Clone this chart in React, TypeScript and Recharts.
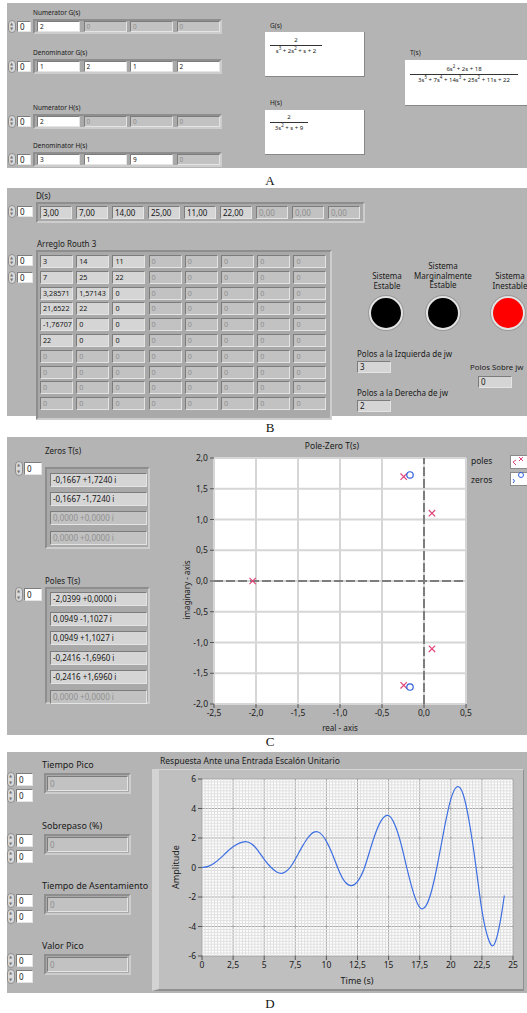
import React from "react";
import {
  CartesianGrid,
  Line,
  LineChart,
  ReferenceLine,
  Scatter,
  ScatterChart,
  XAxis,
  YAxis,
} from "recharts";

const PANEL = "#b4b4b4";
const FONT = "'Noto Sans', 'DejaVu Sans', sans-serif";
const POLE = "#e0457b";
const ZERO = "#2f5fdc";

// A: transfer function inputs
const numeratorG = ["2", "0", "0", "0"];
const denominatorG = ["1", "2", "1", "2"];
const numeratorH = ["2", "0", "0", "0"];
const denominatorH = ["3", "1", "9", "0"];
const activeCounts = [1, 4, 1, 3];

// B: characteristic polynomial + Routh array
const dCoefficients = ["3,00", "7,00", "14,00", "25,00", "11,00", "22,00", "0,00", "0,00", "0,00"];
const routhRows = [
  ["3", "14", "11"],
  ["7", "25", "22"],
  ["3,28571", "1,57143", "0"],
  ["21,6522", "22", "0"],
  ["-1,76707", "0", "0"],
  ["22", "0", "0"],
];
const polesLeft = "3";
const polesOn = "0";
const polesRight = "2";

// C: poles and zeros of T(s)
const zeroLabels = ["-0,1667 +1,7240 i", "-0,1667 -1,7240 i", "0,0000 +0,0000 i", "0,0000 +0,0000 i"];
const poleLabels = [
  "-2,0399 +0,0000 i",
  "0,0949 -1,1027 i",
  "0,0949 +1,1027 i",
  "-0,2416 -1,6960 i",
  "-0,2416 +1,6960 i",
  "0,0000 +0,0000 i",
];
const poleRe = [-2.0399, 0.0949, 0.0949, -0.2416, -0.2416];
const poleIm = [0, -1.1027, 1.1027, -1.696, 1.696];
const zeroRe = [-0.1667, -0.1667];
const zeroIm = [1.724, -1.724];
const reTicks = [-2.5, -2, -1.5, -1, -0.5, 0, 0.5];
const imTicks = [-2, -1.5, -1, -0.5, 0, 0.5, 1, 1.5, 2];

// D: step response
const stepTime = [
  0, 0.5, 1, 1.5, 2, 2.5, 3, 3.5, 4, 4.5, 5, 5.5, 6, 6.5, 7, 7.5, 8, 8.5, 9, 9.5, 10, 10.5, 11, 11.5,
  12, 12.5, 13, 13.5, 14, 14.5, 15, 15.5, 16, 16.5, 17, 17.5, 18, 18.5, 19, 19.5, 20, 20.5, 21, 21.5,
  22, 22.5, 23, 23.5, 24, 24.3,
];
const stepAmp = [
  0, 0.08, 0.3, 0.65, 1.05, 1.4, 1.65, 1.76, 1.6, 1.15, 0.55, 0.05, -0.3, -0.38, -0.08, 0.56, 1.33, 2.0,
  2.4, 2.33, 1.77, 0.87, -0.2, -0.98, -1.23, -0.95, -0.15, 1.16, 2.44, 3.3, 3.52, 2.9, 1.6, -0.15, -1.72,
  -2.7, -2.6, -1.44, 0.51, 2.75, 4.62, 5.47, 4.95, 3.0, 0.2, -2.9, -4.8, -5.2, -3.55, -1.9,
];
const timeTicks = [0, 2.5, 5, 7.5, 10, 12.5, 15, 17.5, 20, 22.5, 25];
const ampTicks = [-6, -4, -2, 0, 2, 4, 6];
// minor grid positions (every 0.25 s / 0.2 amplitude), majors left to the grid
const minorTime = Array.from({ length: 101 }, (_, i) => i * 0.25).filter((_, i) => i % 10 !== 0);
const minorAmp = Array.from({ length: 61 }, (_, i) => -6 + i * 0.2).filter((_, i) => i % 10 !== 0);

const comma = (v: number, digits?: number) =>
  (digits === undefined ? String(v) : v.toFixed(digits)).replace(".", ",");

type Kind = "control" | "indicator" | "disabled";

function Cell({ x, y, w, h, text, kind, size = 8 }: { x: number; y: number; w: number; h: number; text: string; kind: Kind; size?: number }) {
  const bg = kind === "control" ? "#ffffff" : kind === "indicator" ? "#d5d5d5" : "#c2c2c2";
  return (
    <div
      style={{
        position: "absolute", left: x, top: y, width: w, height: h, boxSizing: "border-box",
        background: bg, color: kind === "disabled" ? "#8e8e8e" : "#151515", fontSize: size,
        lineHeight: `${h - 2}px`, paddingLeft: 2, whiteSpace: "nowrap", overflow: "hidden",
        borderTop: "1px solid #7c7c7c", borderLeft: "1px solid #7c7c7c",
        borderBottom: "1px solid #e4e4e4", borderRight: "1px solid #e4e4e4",
      }}
    >
      {text}
    </div>
  );
}

function Frame({ x, y, w, h }: { x: number; y: number; w: number; h: number }) {
  return (
    <div
      style={{
        position: "absolute", left: x, top: y, width: w, height: h, boxSizing: "border-box",
        background: "#a9a9a9", borderTop: "2px solid #8e8e8e", borderLeft: "2px solid #8e8e8e",
        borderBottom: "2px solid #cdcdcd", borderRight: "2px solid #cdcdcd",
      }}
    />
  );
}

function Text({ x, y, text, size = 8, w, center }: { x: number; y: number; text: React.ReactNode; size?: number; w?: number; center?: boolean }) {
  return (
    <div
      style={{
        position: "absolute", left: x, top: y, width: w, fontSize: size, lineHeight: 1.2,
        color: "#1a1a1a", whiteSpace: "nowrap", textAlign: center ? "center" : "left",
      }}
    >
      {text}
    </div>
  );
}

function Spinner({ x, y, box = 15, h = 11 }: { x: number; y: number; box?: number; h?: number }) {
  return (
    <>
      <div
        style={{
          position: "absolute", left: x, top: y - 1, width: 8, height: h + 2, boxSizing: "border-box",
          borderRadius: 4, background: "#d9d9d9", border: "1px solid #8d8d8d",
        }}
      >
        <div style={{ position: "absolute", left: 1, top: 1, fontSize: 4, lineHeight: "4px", color: "#777" }}>▲</div>
        <div style={{ position: "absolute", left: 1, bottom: 1, fontSize: 4, lineHeight: "4px", color: "#777" }}>▼</div>
      </div>
      <Cell x={x + 9} y={y} w={box} h={h} text="0" kind="control" />
    </>
  );
}

function Fraction({ x, y, w, num, den }: { x: number; y: number; w: number; num: React.ReactNode; den: React.ReactNode }) {
  return (
    <div style={{ position: "absolute", left: x, top: y, width: w, fontSize: 6, lineHeight: "7px", textAlign: "center", color: "#222" }}>
      <div style={{ borderBottom: "1.5px solid #333", paddingBottom: 1 }}>{num}</div>
      <div style={{ paddingTop: 2 }}>{den}</div>
    </div>
  );
}

const sup = (n: string) => <sup style={{ fontSize: 4.5, lineHeight: 0 }}>{n}</sup>;

function ArrayRow({ label, values, active, top }: { label: string; values: string[]; active: number; top: number }) {
  return (
    <>
      <Text x={33} y={top} text={label} size={6.5} />
      <Spinner x={8} y={top + 12} box={14} />
      <Frame x={33} y={top + 10} w={189} h={15} />
      {values.map((v, i) => (
        <Cell key={i} x={37 + i * 46.5} y={top + 12} w={43} h={11} text={v} kind={i < active ? "control" : "disabled"} size={6.5} />
      ))}
    </>
  );
}

const PoleMark = (props: any) => {
  const { cx, cy } = props;
  const s = 3.2;
  return (
    <g>
      <line x1={cx - s} y1={cy - s} x2={cx + s} y2={cy + s} stroke={POLE} strokeWidth={1.2} />
      <line x1={cx - s} y1={cy + s} x2={cx + s} y2={cy - s} stroke={POLE} strokeWidth={1.2} />
    </g>
  );
};

const ZeroMark = (props: any) => {
  const { cx, cy } = props;
  return <circle cx={cx} cy={cy} r={3.2} fill="none" stroke={ZERO} strokeWidth={1.2} />;
};

function PoleZeroChart() {
  const poles = poleRe.map((re, i) => ({ re, im: poleIm[i] }));
  const zeros = zeroRe.map((re, i) => ({ re, im: zeroIm[i] }));
  const tick = { fontSize: 8.5, fill: "#1a1a1a", fontFamily: FONT };
  return (
    <ScatterChart width={342} height={298} margin={{ top: 21, right: 61, bottom: 13, left: 0 }}>
      <CartesianGrid stroke="#d6d6d6" strokeWidth={2} fill="#ffffff" />
      <XAxis
        type="number" dataKey="re" domain={[-2.5, 0.5]} ticks={reTicks} height={18}
        tickFormatter={(v) => comma(Number(v), 1)} tick={tick} axisLine={false}
        tickLine={{ stroke: "#555" }} tickSize={4} allowDataOverflow
      />
      <YAxis
        type="number" dataKey="im" domain={[-2, 2]} ticks={imTicks} width={29}
        tickFormatter={(v) => comma(Number(v), 1)} tick={tick} axisLine={false}
        tickLine={{ stroke: "#555" }} tickSize={4} allowDataOverflow
      />
      <ReferenceLine x={0} stroke="#7d7d7d" strokeWidth={2} strokeDasharray="9 3" />
      <ReferenceLine y={0} stroke="#7d7d7d" strokeWidth={2} strokeDasharray="9 3" />
      <Scatter name="poles" data={poles} shape={PoleMark} isAnimationActive={false} />
      <Scatter name="zeros" data={zeros} shape={ZeroMark} isAnimationActive={false} />
    </ScatterChart>
  );
}

function StepChart() {
  const data = stepTime.map((t, i) => ({ t, y: stepAmp[i] }));
  const tick = { fontSize: 8.5, fill: "#1a1a1a", fontFamily: FONT };
  return (
    <LineChart width={368} height={220} data={data} margin={{ top: 9, right: 10, bottom: 16, left: 22 }}>
      <CartesianGrid stroke="#a4a4a4" fill="#fdfdfd" />
      <XAxis
        type="number" dataKey="t" domain={[0, 25]} ticks={timeTicks} height={18}
        tickFormatter={(v) => comma(Number(v))} tick={tick} axisLine={false}
        tickLine={{ stroke: "#555" }} tickSize={4}
      />
      <YAxis
        type="number" domain={[-6, 6]} ticks={ampTicks} width={25}
        tick={tick} axisLine={false} tickLine={{ stroke: "#555" }} tickSize={4}
      />
      {minorTime.map((t) => (
        <ReferenceLine key={`t${t}`} x={t} stroke="#e0e0e0" strokeWidth={1} />
      ))}
      {minorAmp.map((a) => (
        <ReferenceLine key={`a${a}`} y={a} stroke="#e0e0e0" strokeWidth={1} />
      ))}
      <Line type="natural" dataKey="y" stroke="#3d6fe2" strokeWidth={1.2} dot={false} isAnimationActive={false} />
    </LineChart>
  );
}

function Led({ cx, cy, color }: { cx: number; cy: number; color: string }) {
  return (
    <div
      style={{
        position: "absolute", left: cx - 17, top: cy - 17, width: 34, height: 34, boxSizing: "border-box",
        borderRadius: "50%", background: color, border: "2px solid #e2e2e2", boxShadow: "0 0 0 1px #9a9a9a",
      }}
    />
  );
}

export default function App() {
  const panel = (top: number, h: number) => (
    <div style={{ position: "absolute", left: 7, top, width: 520, height: h, background: PANEL }} />
  );
  const letter = (y: number, l: string) => (
    <div style={{ position: "absolute", left: 0, width: 540, top: y, textAlign: "center", fontFamily: "'Liberation Serif', serif", fontSize: 13, lineHeight: "14px", color: "#111" }}>
      {l}
    </div>
  );

  return (
    <div style={{ position: "relative", width: 527, height: 1013, overflow: "hidden", background: "#fff", fontFamily: FONT }}>
      <style>{"body{margin:0}"}</style>

      {/* A */}
      {panel(3, 165)}
      <ArrayRow label="Numerator G(s)" values={numeratorG} active={activeCounts[0]} top={9} />
      <ArrayRow label="Denominator G(s)" values={denominatorG} active={activeCounts[1]} top={49} />
      <ArrayRow label="Numerator H(s)" values={numeratorH} active={activeCounts[2]} top={104} />
      <ArrayRow label="Denominator H(s)" values={denominatorH} active={activeCounts[3]} top={142} />
      <Text x={270} y={22} text="G(s)" size={6.5} />
      <div style={{ position: "absolute", left: 265, top: 32, width: 99, height: 44, background: "#fff", borderBottom: "1px solid #888", borderRight: "1px solid #888" }} />
      <Fraction x={270} y={37} w={52} num="2" den={<>s{sup("3")} + 2s{sup("2")} + s + 2</>} />
      <Text x={270} y={99} text="H(s)" size={6.5} />
      <div style={{ position: "absolute", left: 265, top: 110, width: 99, height: 44, background: "#fff", borderBottom: "1px solid #888", borderRight: "1px solid #888" }} />
      <Fraction x={270} y={114} w={38} num="2" den={<>3s{sup("2")} + s + 9</>} />
      <Text x={410} y={49} text="T(s)" size={6.5} />
      <div style={{ position: "absolute", left: 405, top: 60, width: 122, height: 45, background: "#fff", borderBottom: "1px solid #888" }} />
      <Fraction
        x={410} y={66} w={108}
        num={<>6s{sup("2")} + 2s + 18</>}
        den={<>3s{sup("5")} + 7s{sup("4")} + 14s{sup("3")} + 25s{sup("2")} + 11s + 22</>}
      />
      {letter(174, "A")}

      {/* B */}
      {panel(188, 228)}
      <Text x={36} y={191} text="D(s)" />
      <Spinner x={8} y={206} box={16} />
      <Frame x={36} y={202} w={329} h={21} />
      {dCoefficients.map((v, i) => (
        <Cell key={i} x={40 + i * 36} y={206} w={32} h={13} text={v} kind={i < 6 ? "indicator" : "disabled"} />
      ))}
      <Text x={37} y={239} text="Arreglo Routh 3" />
      <Spinner x={8} y={255} box={16} />
      <Spinner x={8} y={272} box={16} />
      <Frame x={36} y={250} w={296} h={170} />
      {Array.from({ length: 10 }).map((_, r) =>
        Array.from({ length: 8 }).map((__, c) => {
          const v = r < routhRows.length && c < 3 ? routhRows[r][c] : "0";
          return (
            <Cell key={`${r}-${c}`} x={40 + c * 36.2} y={255 + r * 15.8} w={33} h={13} text={v} size={7.2}
              kind={r < routhRows.length && c < 3 ? "indicator" : "disabled"} />
          );
        })
      )}
      <Text x={347} y={271} w={80} center text={<>Sistema<br />Estable</>} />
      <Text x={403} y={261} w={80} center text={<>Sistema<br />Marginalmente<br />Estable</>} />
      <Text x={470} y={271} w={80} center text={<>Sistema<br />Inestable</>} />
      <Led cx={386} cy={313} color="#000" />
      <Led cx={443} cy={313} color="#000" />
      <Led cx={508} cy={313} color="#ff0000" />
      <Text x={357} y={349} text="Polos a la Izquierda de jw" />
      <Cell x={357} y={361} w={34} h={12} text={polesLeft} kind="indicator" />
      <Text x={470} y={363} text="Polos Sobre jw" size={7.8} />
      <Cell x={478} y={376} w={34} h={12} text={polesOn} kind="indicator" />
      <Text x={357} y={388} text="Polos a la Derecha de jw" />
      <Cell x={357} y={400} w={34} h={12} text={polesRight} kind="indicator" />
      {letter(421, "B")}

      {/* C */}
      {panel(437, 298)}
      <Text x={45} y={446} text="Zeros T(s)" />
      <Spinner x={15} y={462} box={18} h={13} />
      <Frame x={45} y={467} w={105} h={82} />
      {zeroLabels.map((v, i) => (
        <Cell key={i} x={50} y={473 + i * 19.2} w={97} h={14} text={v} kind={i < 2 ? "indicator" : "disabled"} />
      ))}
      <Text x={45} y={576} text="Poles T(s)" />
      <Spinner x={15} y={588} box={18} h={13} />
      <Frame x={45} y={587} w={105} h={117} />
      {poleLabels.map((v, i) => (
        <Cell key={i} x={50} y={592 + i * 19.6} w={97} h={14} text={v} kind={i < 5 ? "indicator" : "disabled"} />
      ))}
      <Text x={262} y={441} w={140} center text="Pole-Zero T(s)" size={8.5} />
      <div style={{ position: "absolute", left: 185, top: 437 }}>
        <PoleZeroChart />
      </div>
      <div style={{ position: "absolute", left: 147, top: 585, width: 80, textAlign: "center", fontSize: 8, lineHeight: "10px", transform: "rotate(-90deg)", color: "#1a1a1a" }}>
        imaginary - axis
      </div>
      <Text x={300} y={723} w={80} center text="real - axis" />
      <Text x={471} y={456} text="poles" size={8.5} />
      <Text x={471} y={475} text="zeros" size={8.5} />
      <svg style={{ position: "absolute", left: 510, top: 455 }} width={17} height={31}>
        <rect x={0.5} y={0.5} width={17} height={13} fill="#fff" stroke="#8a8a8a" />
        <path d="M3 7 L6 5 M3 7 L6 10" stroke={POLE} strokeWidth={1} fill="none" />
        <path d="M9 2 L13 6 M9 6 L13 2" stroke={POLE} strokeWidth={1} />
        <rect x={0.5} y={17.5} width={17} height={13} fill="#fff" stroke="#8a8a8a" />
        <path d="M3 24 Q6 26 3 28" stroke={ZERO} strokeWidth={1} fill="none" />
        <circle cx={11} cy={20} r={2.5} fill="none" stroke={ZERO} strokeWidth={1} />
      </svg>
      {letter(735, "C")}

      {/* D */}
      {panel(752, 241)}
      {[
        ["Tiempo Pico", 760],
        ["Sobrepaso (%)", 821],
        ["Tiempo de Asentamiento", 881],
        ["Valor Pico", 941],
      ].map(([label, y]) => {
        const top = Number(y);
        return (
          <React.Fragment key={String(label)}>
            <Text x={42} y={top} text={label} size={9} />
            <Spinner x={7} y={top + 13} box={17} h={13} />
            <Spinner x={7} y={top + 29} box={17} h={13} />
            <Frame x={44} y={top + 13} w={87} h={21} />
            <Cell x={47} y={top + 16} w={81} h={15} text="0" kind="disabled" />
          </React.Fragment>
        );
      })}
      <Text x={160} y={756} text="Respuesta Ante una Entrada Escalón Unitario" size={8.5} />
      <div
        style={{
          position: "absolute", left: 152, top: 769, width: 372, height: 222, boxSizing: "border-box",
          background: "#bfbfbf", borderLeft: "7px solid #d3d3d3", borderTop: "1px solid #d6d6d6",
          borderBottom: "2px solid #909090", borderRight: "1px solid #909090",
        }}
      />
      <div style={{ position: "absolute", left: 155, top: 770 }}>
        <StepChart />
      </div>
      <div style={{ position: "absolute", left: 146, top: 862, width: 60, textAlign: "center", fontSize: 9, lineHeight: "10px", transform: "rotate(-90deg)", color: "#1a1a1a" }}>
        Amplitude
      </div>
      <Text x={317} y={976} w={80} center text="Time (s)" size={9} />
      {letter(997, "D")}
    </div>
  );
}
